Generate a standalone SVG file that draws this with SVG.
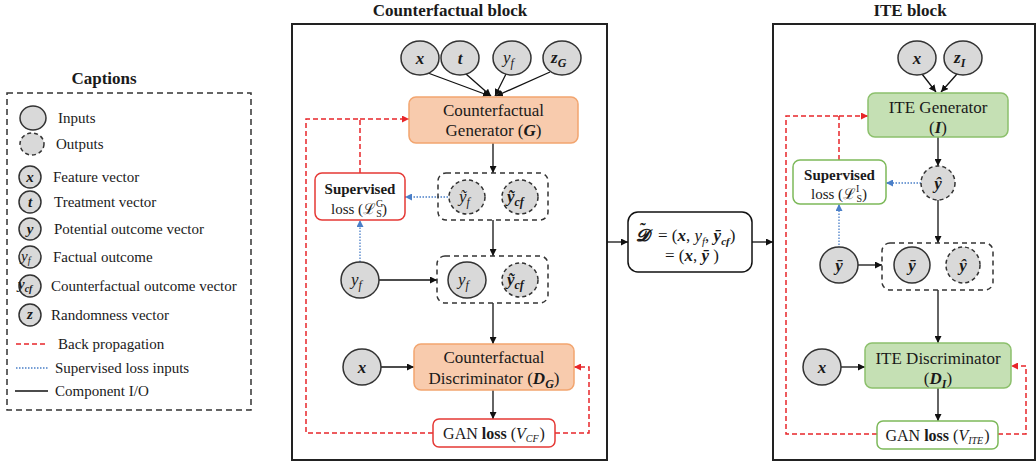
<svg xmlns="http://www.w3.org/2000/svg" width="1036" height="465" viewBox="0 0 1036 465" font-family="'Liberation Serif', 'Times New Roman', Tinos, 'DejaVu Serif', serif">
<style>
text, tspan{font-family:'Liberation Serif','Times New Roman',Tinos,'DejaVu Serif',serif}
text{fill:#1a1a1a}
.t15{font-size:15px}
.t16{font-size:16px}
.t17{font-size:17px}
.title{font-size:17px;font-weight:bold}
.b{font-weight:bold}
.bi{font-weight:bold;font-style:italic}
.i{font-style:italic}
.mid{text-anchor:middle}
.in{fill:#d9d9d9;stroke:#333;stroke-width:1.5}
.out{fill:#d9d9d9;stroke:#333;stroke-width:1.5;stroke-dasharray:4 3}
.blk{fill:#fff;stroke:#222;stroke-width:2}
.orange{fill:#f8cbad;stroke:#f2a56f;stroke-width:1.5}
.green{fill:#c5e0b4;stroke:#8cc06c;stroke-width:1.5}
.redbox{fill:#fff;stroke:#e53935;stroke-width:1.5}
.grnbox{fill:#fff;stroke:#7db95a;stroke-width:1.5}
.grp{fill:none;stroke:#333;stroke-width:1.5;stroke-dasharray:5 4}
.cap{fill:none;stroke:#333;stroke-width:1.5;stroke-dasharray:6 4}
.io{fill:none;stroke:#111;stroke-width:1.3}
.ioa{fill:none;stroke:#111;stroke-width:1.3;marker-end:url(#ak)}
.bp{fill:none;stroke:#e8262a;stroke-width:1.5;stroke-dasharray:5 3}
.bpa{fill:none;stroke:#e8262a;stroke-width:1.5;stroke-dasharray:5 3;marker-end:url(#ar)}
.sl{fill:none;stroke:#4a7fc8;stroke-width:1.3;stroke-dasharray:1.5 1.5}
.sla{fill:none;stroke:#4a7fc8;stroke-width:1.3;stroke-dasharray:1.5 1.5;marker-end:url(#ab)}
</style>
<defs>
<marker id="ak" viewBox="0 0 8 8" refX="8" refY="4" markerWidth="7" markerHeight="7" markerUnits="userSpaceOnUse" orient="auto"><path d="M0,0 L8,4 L0,8 z" fill="#111"/></marker>
<marker id="ar" viewBox="0 0 8 8" refX="8" refY="4" markerWidth="7" markerHeight="7" markerUnits="userSpaceOnUse" orient="auto"><path d="M0,0 L8,4 L0,8 z" fill="#e8262a"/></marker>
<marker id="ab" viewBox="0 0 8 8" refX="8" refY="4" markerWidth="7" markerHeight="7" markerUnits="userSpaceOnUse" orient="auto"><path d="M0,0 L8,4 L0,8 z" fill="#4a7fc8"/></marker>
</defs>
<rect width="1036" height="465" fill="#fff"/>

<!-- Captions -->
<g id="captions">
<text class="title mid" x="104" y="84">Captions</text>
<rect class="cap" x="7" y="93" width="244" height="317"/>
<ellipse class="in" cx="33" cy="118" rx="13" ry="12"/>
<text class="t15" x="58" y="123">Inputs</text>
<ellipse class="out" cx="32" cy="144" rx="12" ry="11"/>
<text class="t15" x="56" y="149">Outputs</text>
<ellipse class="in" cx="30" cy="177" rx="11" ry="11"/>
<text class="t15 bi mid" x="30" y="182">x</text>
<text class="t15" x="53" y="182">Feature vector</text>
<ellipse class="in" cx="30" cy="202" rx="11" ry="11"/>
<text class="t15 bi mid" x="30" y="207">t</text>
<text class="t15" x="54" y="207">Treatment vector</text>
<ellipse class="in" cx="30" cy="229" rx="11" ry="11"/>
<text class="t15 bi mid" x="30" y="234">y</text>
<text class="t15" x="54" y="234">Potential outcome vector</text>
<ellipse class="in" cx="30" cy="257" rx="11" ry="11"/>
<text class="t15 i" x="21" y="261">y<tspan font-size="10" dy="3">f</tspan></text>
<text class="t15" x="53" y="262">Factual outcome</text>
<ellipse class="in" cx="30" cy="286" rx="11" ry="11"/>
<text class="t15 bi" x="18" y="289">y<tspan font-size="10" dy="3">cf</tspan></text>
<text class="t15" x="51" y="291">Counterfactual outcome vector</text>
<ellipse class="in" cx="30" cy="315" rx="11" ry="11"/>
<text class="t15 bi mid" x="30" y="319">z</text>
<text class="t15" x="51" y="320">Randomness vector</text>
<line class="bp" x1="16" y1="344" x2="48" y2="344"/>
<text class="t15" x="58" y="349">Back propagation</text>
<line class="sl" x1="16" y1="368" x2="48" y2="368"/>
<text class="t15" x="55" y="373">Supervised loss inputs</text>
<line class="io" x1="15" y1="391" x2="48" y2="391" stroke-width="1.5"/>
<text class="t15" x="55" y="396">Component I/O</text>
</g>

<!-- Block frames -->
<g id="cf-block">
<text class="title mid" x="450" y="16">Counterfactual block</text>
<rect class="blk" x="292" y="24" width="315" height="436"/>
</g>
<g id="ite-block">
<text class="title mid" x="910" y="16">ITE block</text>
<rect class="blk" x="773" y="24" width="262" height="436"/>
</g>

<!-- Connectors -->
<g id="connectors">
<line class="ioa" x1="428" y1="73" x2="490" y2="96"/>
<line class="ioa" x1="466" y1="74" x2="491" y2="96"/>
<line class="ioa" x1="506" y1="74" x2="495" y2="96"/>
<line class="ioa" x1="550" y1="72" x2="496" y2="96"/>
<line class="ioa" x1="493" y1="143" x2="493" y2="173"/>
<line class="ioa" x1="493" y1="220" x2="493" y2="256"/>
<line class="ioa" x1="379" y1="280" x2="437" y2="280"/>
<line class="ioa" x1="493" y1="303" x2="493" y2="344"/>
<line class="ioa" x1="381" y1="367" x2="414" y2="367"/>
<line class="ioa" x1="493" y1="390" x2="493" y2="419"/>
<line class="sla" x1="448" y1="197" x2="405" y2="197"/>
<line class="sla" x1="360" y1="262" x2="360" y2="220"/>
<polyline class="bp" points="360,173 360,119"/>
<polyline class="bp" points="433,433 306,433 306,119 360,119"/>
<line class="bpa" x1="360" y1="119" x2="409" y2="119"/>
<polyline class="bpa" points="555,433 589,433 589,367 574,367"/>
<line class="ioa" x1="607" y1="242" x2="628" y2="242"/>
<line class="ioa" x1="752" y1="242" x2="773" y2="242"/>
<line class="ioa" x1="922" y1="74" x2="936" y2="92"/>
<line class="ioa" x1="957" y1="74" x2="941" y2="92"/>
<line class="ioa" x1="938" y1="137" x2="938" y2="166"/>
<line class="ioa" x1="938" y1="200" x2="938" y2="243"/>
<line class="ioa" x1="858" y1="265" x2="882" y2="265"/>
<line class="ioa" x1="938" y1="290" x2="938" y2="343"/>
<line class="ioa" x1="841" y1="367" x2="865" y2="367"/>
<line class="ioa" x1="938" y1="388" x2="938" y2="421"/>
<line class="sla" x1="921" y1="183" x2="886" y2="183"/>
<line class="sla" x1="839" y1="248" x2="839" y2="204"/>
<polyline class="bp" points="839,160 839,116"/>
<polyline class="bp" points="877,434 786,434 786,116 839,116"/>
<line class="bpa" x1="839" y1="116" x2="868" y2="116"/>
<polyline class="bpa" points="998,434 1026,434 1026,366 1011,366"/>
</g>

<!-- CF nodes -->
<g id="cf-x"><ellipse class="in" cx="420" cy="58" rx="19" ry="17"/><text class="t17 bi mid" x="420" y="64">x</text></g>
<g id="cf-t"><ellipse class="in" cx="460" cy="58" rx="19" ry="17"/><text class="t17 bi mid" x="460" y="64">t</text></g>
<g id="cf-yf"><ellipse class="in" cx="512" cy="58" rx="19" ry="17"/><text class="t17 i" x="503" y="63">y<tspan font-size="12" dy="4">f</tspan></text></g>
<g id="cf-zg"><ellipse class="in" cx="562" cy="58" rx="19" ry="17"/><text class="t17 bi" x="551" y="63">z<tspan font-size="12" dy="4">G</tspan></text></g>
<g id="cf-generator">
<rect class="orange" x="409" y="97" width="169" height="46" rx="7"/>
<text class="t17 mid" x="493.5" y="116">Counterfactual</text>
<text class="t17 mid" x="493.5" y="136">Generator (<tspan class="bi">G</tspan>)</text>
</g>
<g id="cf-supervised-loss">
<rect class="redbox" x="315" y="173" width="90" height="47" rx="7"/>
<text class="t15 b mid" x="360" y="194">Supervised</text>
<text class="t15" x="331" y="214">loss (ℒ<tspan font-size="10" dy="-7">G</tspan><tspan font-size="10" dx="-7" dy="10">S</tspan><tspan dy="-3">)</tspan></text>
</g>
<g id="cf-gen-outputs">
<rect class="grp" x="438" y="173" width="110" height="47" rx="8"/>
<ellipse class="out" cx="467" cy="197" rx="18" ry="17"/>
<text class="t17 i" x="459" y="202">ỹ<tspan font-size="12" dy="4">f</tspan></text>
<ellipse class="out" cx="520" cy="197" rx="18" ry="17"/>
<text class="t17 bi" x="507" y="202">ỹ<tspan font-size="12" dy="4">cf</tspan></text>
</g>
<g id="cf-yf-real"><ellipse class="in" cx="360" cy="280" rx="19" ry="18"/><text class="t17 i" x="351" y="285">y<tspan font-size="12" dy="4">f</tspan></text></g>
<g id="cf-disc-inputs">
<rect class="grp" x="437" y="256" width="111" height="47" rx="8"/>
<ellipse class="in" cx="467" cy="280" rx="19" ry="18"/>
<text class="t17 i" x="458" y="285">y<tspan font-size="12" dy="4">f</tspan></text>
<ellipse class="out" cx="520" cy="280" rx="18" ry="17"/>
<text class="t17 bi" x="507" y="285">ỹ<tspan font-size="12" dy="4">cf</tspan></text>
</g>
<g id="cf-x2"><ellipse class="in" cx="362" cy="367" rx="19" ry="18"/><text class="t17 bi mid" x="362" y="373">x</text></g>
<g id="cf-discriminator">
<rect class="orange" x="414" y="344" width="160" height="46" rx="7"/>
<text class="t17 mid" x="494" y="363">Counterfactual</text>
<text class="t17 mid" x="494" y="384">Discriminator (<tspan class="bi">D<tspan font-size="12" dy="4">G</tspan></tspan><tspan dy="-4">)</tspan></text>
</g>
<g id="cf-gan-loss">
<rect class="redbox" x="433" y="419" width="122" height="28" rx="6"/>
<text class="t16 mid" x="494" y="439">GAN <tspan class="b">loss</tspan> (<tspan class="i">V<tspan font-size="10" dy="3">CF</tspan></tspan><tspan dx="1" dy="-3">)</tspan></text>
</g>

<!-- Dataset node -->
<g id="dataset">
<rect fill="#fff" stroke="#111" stroke-width="1.5" x="628" y="212" width="124" height="60" rx="10"/>
<text class="t17" x="636" y="241"><tspan class="bi">𝓓</tspan><tspan dx="9">= (</tspan><tspan class="bi">x</tspan>, <tspan class="i">y<tspan font-size="11" dy="4">f</tspan></tspan><tspan dy="-4">, </tspan><tspan class="bi">ȳ<tspan font-size="11" dy="4">cf</tspan></tspan><tspan dy="-4">)</tspan><tspan class="b" x="640" y="235">˜</tspan></text>
<text class="t17 mid" x="692" y="261">= (<tspan class="bi">x</tspan>, <tspan class="bi">ȳ</tspan> )</text>
</g>

<!-- ITE nodes -->
<g id="ite-x"><ellipse class="in" cx="917" cy="58" rx="19" ry="17"/><text class="t17 bi mid" x="917" y="64">x</text></g>
<g id="ite-zi"><ellipse class="in" cx="963" cy="58" rx="19" ry="17"/><text class="t17 bi" x="954" y="63">z<tspan font-size="12" dy="4">I</tspan></text></g>
<g id="ite-generator">
<rect class="green" x="868" y="93" width="140" height="44" rx="7"/>
<text class="t17 mid" x="938" y="113">ITE Generator</text>
<text class="t17 mid" x="938" y="133">(<tspan class="bi">I</tspan>)</text>
</g>
<g id="ite-supervised-loss">
<rect class="grnbox" x="793" y="160" width="93" height="44" rx="7"/>
<text class="t15 b mid" x="839.5" y="180">Supervised</text>
<text class="t15" x="811" y="199">loss (ℒ<tspan font-size="10" dy="-7">I</tspan><tspan font-size="10" dx="-3" dy="10">S</tspan><tspan dy="-3">)</tspan></text>
</g>
<g id="ite-yhat"><ellipse class="out" cx="938" cy="183" rx="17" ry="17"/><text class="t17 bi mid" x="938" y="189">ŷ</text></g>
<g id="ite-ybar"><ellipse class="in" cx="839" cy="265" rx="19" ry="18"/><text class="t17 bi mid" x="839" y="271">ȳ</text></g>
<g id="ite-disc-inputs">
<rect class="grp" x="882" y="243" width="111" height="47" rx="8"/>
<ellipse class="in" cx="912" cy="265" rx="18" ry="18"/>
<text class="t17 bi mid" x="912" y="271">ȳ</text>
<ellipse class="out" cx="963" cy="265" rx="17" ry="18"/>
<text class="t17 bi mid" x="963" y="271">ŷ</text>
</g>
<g id="ite-x2"><ellipse class="in" cx="822" cy="367" rx="19" ry="18"/><text class="t17 bi mid" x="822" y="373">x</text></g>
<g id="ite-discriminator">
<rect class="green" x="865" y="343" width="146" height="45" rx="7"/>
<text class="t17 mid" x="938" y="364">ITE Discriminator</text>
<text class="t17 mid" x="938" y="384">(<tspan class="bi">D<tspan font-size="12" dy="4">I</tspan></tspan><tspan dy="-4">)</tspan></text>
</g>
<g id="ite-gan-loss">
<rect class="grnbox" x="877" y="421" width="121" height="28" rx="6"/>
<text class="t16 mid" x="937.5" y="441">GAN <tspan class="b">loss</tspan> (<tspan class="i">V<tspan font-size="10" dy="3">ITE</tspan></tspan><tspan dx="1" dy="-3">)</tspan></text>
</g>
</svg>
